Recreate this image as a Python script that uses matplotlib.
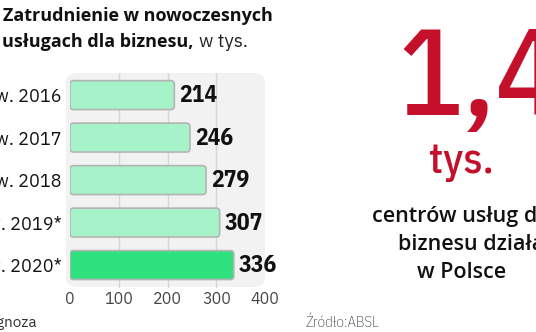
import matplotlib
matplotlib.use("Agg")
import matplotlib.pyplot as plt
from matplotlib.patches import FancyBboxPatch

categories = ["w. 2016", "w. 2017", "w. 2018", "w. 2019*", "w. 2020*"]
values = [214, 246, 279, 307, 336]
xticks = [0, 100, 200, 300, 400]
value_labels = ["214", "246", "279", "307", "336"]

W, H = 536, 332
fig = plt.figure(figsize=(W / 100, H / 100), dpi=100)
fig.patch.set_facecolor("white")

def fx(px):
    return px / W

def fy(py):
    return 1 - py / H

RED = "#c5102c"
LIGHT = "#a6f2c9"
DARK = "#2fe07f"
PLEX = ["IBM Plex Sans", "Open Sans", "DejaVu Sans"]
PLEXC = ["IBM Plex Sans Condensed", "Barlow Semi Condensed", "DejaVu Sans"]
BOLD = ["IBM Plex Sans SemiBold", "Open Sans", "DejaVu Sans"]

# Axes: x 0 at px 70, 400 at px 265; rows 0..4 centred at 95..265 px
ax_l, ax_r = 70, 265
ax_t, ax_b = 73, 288
ax = fig.add_axes([fx(ax_l), fy(ax_b), fx(ax_r - ax_l), (ax_b - ax_t) / H])
ax.set_xlim(0, 400)
ax.set_ylim(4.54, -0.52)
ax.set_facecolor("none")
for s in ax.spines.values():
    s.set_visible(False)

# Background panel
panel = FancyBboxPatch((fx(66), fy(287)), fx(265 - 66), (287 - 73) / H,
                       boxstyle="round,pad=0,rounding_size=0.025",
                       transform=fig.transFigure, facecolor="#f2f2f2",
                       edgecolor="none", zorder=-5)
fig.patches.append(panel)

for gx in [100, 200, 300]:
    ax.axvline(gx, color="#d6d6d6", lw=1, zorder=1)

bars = ax.barh(range(len(values)), values, height=0.68, color="none")
xu_per_px = 400 / (ax_r - ax_l)
yu_per_px = (4.54 + 0.52) / (ax_b - ax_t)
aspect = yu_per_px / xu_per_px
for i, b in enumerate(bars):
    b.set_visible(False)
    x0, y0 = b.get_x(), b.get_y()
    w, h = b.get_width(), b.get_height()
    fb = FancyBboxPatch((x0, y0), w, h,
                        boxstyle=f"round,pad=0,rounding_size={3.5 * xu_per_px}",
                        mutation_aspect=aspect,
                        facecolor=DARK if i == len(values) - 1 else LIGHT,
                        edgecolor="#b4b4b4", lw=1.2, zorder=3)
    ax.add_patch(fb)
    ax.text(values[i] + 5 * xu_per_px, i + 0.02, value_labels[i], va="center", ha="left",
            fontsize=17, fontweight="bold", family=PLEXC, color="#111111", zorder=4)

ax.set_yticks(range(len(categories)))
ax.set_yticklabels(categories, fontsize=13, color="#111111", family=PLEX)
ax.tick_params(axis="y", length=0, pad=6)
ax.set_xticks(xticks)
ax.set_xticklabels([str(t) for t in xticks], fontsize=11.5, color="#444444",
                   fontweight="light", family=PLEX)
ax.tick_params(axis="x", length=0, pad=2)

# Title (cropped at the left edge)
fig.text(fx(273), fy(21), "Zatrudnienie w nowoczesnych", ha="right", va="baseline",
         fontsize=13, fontweight="bold", color="#111111", family=BOLD)
fig.text(fx(194), fy(47), "usługach dla biznesu,", ha="right", va="baseline",
         fontsize=13, fontweight="bold", color="#111111", family=BOLD)
fig.text(fx(199), fy(47), "w tys.", ha="left", va="baseline",
         fontsize=13.5, color="#222222", fontweight="light", family=PLEX)

# Footnotes
fig.text(fx(37), fy(327), "*prognoza", ha="right", va="baseline",
         fontsize=11, color="#333333", fontweight="light", family=PLEX)
fig.text(fx(305), fy(327), "Źródło:ABSL", ha="left", va="baseline",
         fontsize=11, color="#333333", fontweight="light", family=PLEXC)

# Right-hand highlight
fig.text(fx(397), fy(115), "1,4", ha="left", va="baseline",
         fontsize=88, color=RED, family=PLEXC, fontweight=500)
fig.text(fx(461), fy(173), "tys.", ha="center", va="baseline",
         fontsize=31, color=RED, family=PLEXC, fontweight=500)
fig.text(fx(372), fy(222), "centrów usług dla", ha="left", va="baseline",
         fontsize=15.5, color="#111111", family=BOLD, fontweight="semibold")
fig.text(fx(398), fy(250), "biznesu działa", ha="left", va="baseline",
         fontsize=15.5, color="#111111", family=BOLD, fontweight="semibold")
fig.text(fx(462), fy(278), "w Polsce", ha="center", va="baseline",
         fontsize=15.5, color="#111111", family=BOLD, fontweight="semibold")

fig.savefig("out.png", dpi=100)
